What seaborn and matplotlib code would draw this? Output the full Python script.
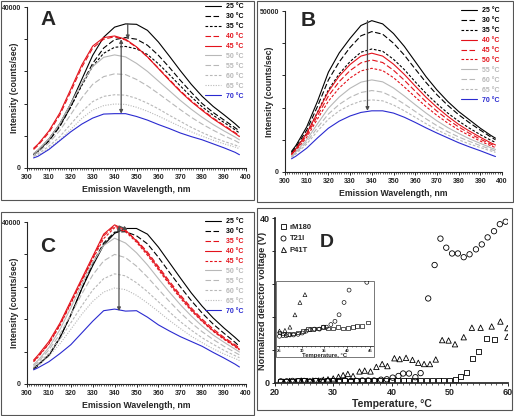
import numpy as np
import matplotlib
matplotlib.use("Agg")
import matplotlib.pyplot as plt
from matplotlib.patches import Rectangle
from matplotlib.lines import Line2D
from matplotlib.ticker import MultipleLocator, FuncFormatter
import seaborn as sns

sns.set_theme(style="ticks")
plt.rcParams["font.family"] = ["Liberation Sans", "DejaVu Sans"]
plt.rcParams["font.weight"] = "bold"
plt.rcParams["axes.labelweight"] = "bold"

# ---- data (intensity in 1000 counts/sec) ----
WAVELENGTH = [303, 305, 310, 315, 320, 325, 330, 335, 340, 345, 350,
              355, 360, 365, 370, 375, 380, 385, 390, 395, 397]
TEMPS = ["25 °C", "30 °C", "35 °C", "40 °C", "45 °C",
         "50 °C", "55 °C", "60 °C", "65 °C", "70 °C"]

A_25 = [3.5, 4.4, 7.2, 11.0, 16.0, 22.0, 28.0, 32.5, 35.0, 35.8, 35.7, 34.2, 31.3, 27.8, 24.2, 20.8, 17.8, 15.3, 13.2, 11.0, 10.0]
A_30 = [3.2, 4.0, 6.7, 10.3, 15.2, 20.8, 26.0, 29.8, 31.9, 32.4, 32.0, 30.5, 28.0, 25.0, 21.8, 18.8, 16.0, 13.8, 11.9, 10.0, 9.2]
A_35 = [3.3, 4.1, 6.9, 10.5, 15.2, 20.5, 25.3, 28.5, 30.0, 30.2, 29.6, 28.2, 25.9, 23.2, 20.4, 17.7, 15.2, 13.1, 11.3, 9.5, 8.7]
A_40 = [4.6, 5.6, 8.8, 13.2, 19.0, 25.0, 29.8, 32.0, 32.6, 31.8, 30.0, 27.6, 24.8, 22.0, 19.2, 16.7, 14.5, 12.4, 10.6, 8.8, 8.0]
A_45 = [4.9, 5.9, 9.2, 13.7, 19.6, 25.6, 30.3, 32.4, 32.8, 32.0, 30.1, 27.6, 24.7, 21.8, 19.0, 16.5, 14.3, 12.2, 10.4, 8.6, 7.8]
A_50 = [3.6, 4.4, 7.2, 11.0, 16.0, 21.0, 25.2, 27.5, 28.1, 27.6, 26.0, 24.0, 21.6, 19.2, 16.8, 14.6, 12.6, 10.8, 9.2, 7.7, 7.0]
A_55 = [3.2, 3.9, 6.2, 9.3, 13.3, 17.4, 20.8, 22.7, 23.4, 23.2, 22.0, 20.4, 18.5, 16.5, 14.5, 12.6, 10.9, 9.4, 8.0, 6.8, 6.2]
A_60 = [2.9, 3.5, 5.4, 7.8, 10.9, 14.0, 16.5, 17.8, 18.2, 18.1, 17.3, 16.1, 14.7, 13.1, 11.6, 10.1, 8.8, 7.6, 6.6, 5.7, 5.3]
A_65 = [2.7, 3.2, 4.9, 7.0, 9.6, 12.3, 14.4, 15.5, 15.9, 15.8, 15.1, 14.1, 12.9, 11.6, 10.3, 9.0, 7.9, 6.9, 6.0, 5.2, 4.8]
A_70 = [2.5, 2.9, 4.6, 6.8, 9.0, 10.9, 12.4, 13.4, 13.5, 13.5, 12.8, 11.9, 10.8, 9.8, 8.7, 7.8, 7.0, 6.0, 5.0, 3.9, 3.3]

B_25 = [6.4, 8.2, 14.0, 22.0, 31.0, 37.0, 41.5, 45.5, 47.0, 46.0, 43.0, 39.0, 34.3, 29.6, 25.5, 21.9, 18.8, 16.2, 13.6, 11.3, 10.5]
B_30 = [6.0, 7.7, 13.0, 20.4, 28.6, 34.2, 38.7, 42.3, 43.6, 42.8, 40.0, 36.3, 32.0, 27.8, 24.0, 20.7, 17.8, 15.3, 13.0, 10.8, 10.0]
B_35 = [5.6, 7.2, 12.0, 18.6, 25.5, 30.5, 34.3, 37.2, 38.2, 37.5, 35.0, 31.8, 28.0, 24.4, 21.2, 18.3, 15.8, 13.6, 11.6, 9.8, 9.2]
B_40 = [5.6, 7.2, 12.0, 18.5, 25.0, 29.8, 33.4, 36.0, 36.9, 36.0, 33.5, 30.3, 26.7, 23.2, 20.1, 17.3, 14.8, 12.7, 10.8, 9.0, 8.4]
B_45 = [5.4, 6.9, 11.4, 17.5, 23.6, 28.1, 31.5, 33.9, 34.8, 34.0, 31.6, 28.5, 25.1, 21.8, 18.9, 16.3, 14.0, 12.0, 10.2, 8.6, 8.0]
B_50 = [5.2, 6.6, 10.8, 16.5, 22.0, 26.1, 29.2, 31.4, 32.2, 31.5, 29.3, 26.4, 23.3, 20.3, 17.6, 15.2, 13.1, 11.3, 9.6, 8.1, 7.6]
B_55 = [4.9, 6.2, 10.0, 15.0, 19.8, 23.3, 26.0, 27.9, 28.6, 28.0, 26.1, 23.6, 20.9, 18.3, 15.9, 13.8, 12.0, 10.3, 8.9, 7.5, 7.0]
B_60 = [4.7, 5.9, 9.3, 13.8, 18.0, 21.0, 23.2, 24.7, 25.3, 24.8, 23.2, 21.1, 18.8, 16.5, 14.4, 12.5, 10.9, 9.5, 8.2, 7.0, 6.5]
B_65 = [4.5, 5.6, 8.7, 12.7, 16.4, 19.0, 20.8, 22.0, 22.4, 22.1, 20.8, 19.0, 17.0, 15.0, 13.1, 11.5, 10.0, 8.7, 7.6, 6.5, 6.1]
B_70 = [4.1, 4.9, 7.4, 10.6, 13.6, 15.8, 17.4, 18.5, 19.0, 19.0, 18.3, 17.0, 15.4, 13.7, 12.1, 10.6, 9.1, 7.8, 6.6, 5.3, 4.8]

C_25 = [3.9, 4.8, 7.0, 11.3, 17.1, 23.5, 29.2, 34.3, 37.2, 38.4, 38.4, 37.0, 33.8, 30.0, 26.2, 22.5, 19.2, 16.3, 13.8, 11.5, 10.5]
C_30 = [3.6, 4.5, 7.2, 11.5, 17.0, 23.5, 29.8, 34.8, 37.5, 37.6, 36.6, 34.6, 31.3, 27.6, 24.0, 20.6, 17.5, 14.8, 12.5, 10.3, 9.3]
C_35 = [5.6, 6.8, 10.0, 14.6, 20.0, 25.6, 31.0, 36.6, 39.0, 37.8, 35.5, 32.6, 29.0, 25.4, 22.0, 18.8, 16.0, 13.6, 11.5, 9.7, 8.9]
C_40 = [5.9, 7.1, 10.5, 15.0, 20.5, 26.0, 31.5, 37.0, 39.3, 38.0, 35.3, 32.2, 28.6, 25.0, 21.6, 18.4, 15.6, 13.2, 11.2, 9.4, 8.6]
C_45 = [5.5, 6.6, 9.9, 14.4, 19.8, 25.3, 30.8, 35.9, 38.6, 37.6, 35.0, 31.8, 28.2, 24.6, 21.2, 18.1, 15.4, 13.0, 11.0, 9.2, 8.4]
C_50 = [4.8, 5.8, 9.0, 13.4, 18.8, 24.5, 30.0, 34.2, 36.0, 34.8, 32.4, 29.4, 26.0, 22.7, 19.6, 16.8, 14.3, 12.1, 10.3, 8.6, 7.9]
C_55 = [4.5, 5.4, 8.4, 12.3, 17.1, 22.2, 26.9, 30.4, 32.0, 31.2, 29.1, 26.4, 23.4, 20.4, 17.6, 15.1, 12.9, 11.0, 9.3, 7.8, 7.2]
C_60 = [4.2, 5.0, 7.6, 11.0, 15.1, 19.3, 23.2, 26.0, 27.2, 26.7, 25.0, 22.8, 20.3, 17.8, 15.4, 13.3, 11.4, 9.8, 8.3, 7.0, 6.5]
C_65 = [3.9, 4.6, 6.9, 9.9, 13.5, 17.2, 20.4, 22.7, 23.7, 23.3, 21.9, 20.0, 17.9, 15.7, 13.7, 11.8, 10.2, 8.7, 7.4, 6.3, 5.8]
C_70 = [3.5, 4.0, 5.5, 7.5, 9.7, 12.6, 15.5, 18.1, 18.5, 18.0, 18.1, 16.5, 14.6, 13.1, 11.7, 10.5, 9.3, 7.8, 6.4, 4.9, 4.2]

# panel D: normalized detector voltage (V) vs temperature
RM180_T = [21, 22, 23, 24, 25, 26, 27, 28, 29, 30, 31, 32, 33, 34, 35, 36, 37, 38, 39, 40,
           41, 42, 43, 44, 45, 46, 47, 48, 49, 50, 51, 51.9, 52.9, 53.9, 55.0, 56.3, 57.6]
RM180_V = [0.3, 0.3, 0.4, 0.5, 0.5, 0.4, 0.5, 0.4, 0.5, 0.5, 0.5, 0.5, 0.4, 0.5, 0.5, 0.5, 0.5, 0.5, 0.5, 0.5,
           0.5, 0.5, 0.5, 0.5, 0.5, 0.5, 0.6, 0.6, 0.6, 0.6, 0.8, 1.5, 2.6, 6.0, 7.6, 10.9, 10.6]
T21I_T = [21, 22, 23, 24, 25, 26, 27, 28, 29, 30, 31, 32, 33, 34, 35, 36, 37, 38.2, 39.2, 40.2,
          41.2, 42.0, 43.0, 44.1, 45.0, 46.3, 47.4, 48.4, 49.4, 50.4, 51.4, 52.4, 53.4, 54.5, 55.5,
          56.5, 57.6, 58.6, 59.6]
T21I_V = [0.4, 0.4, 0.5, 0.4, 0.5, 0.4, 0.5, 0.5, 0.4, 0.5, 0.5, 0.6, 0.5, 0.5, 0.6, 0.6, 0.6, 0.8, 0.9, 1.3,
          1.7, 2.3, 2.3, 1.4, 2.4, 20.5, 28.6, 35.0, 32.8, 31.4, 31.4, 30.5, 31.2, 32.4, 33.6,
          35.3, 36.8, 38.5, 39.1]
P41T_T = [21.5, 22.5, 23.5, 24.5, 25.5, 26.5, 27.5, 28.3, 29.1, 30.0, 30.9, 31.7, 32.5, 33.4, 34.5, 35.4,
          36.4, 37.4, 38.4, 39.3, 40.5, 41.4, 42.5, 43.6, 44.6, 45.6, 46.6, 47.6, 48.7, 49.8, 50.9,
          52.4, 53.8, 55.3, 57.2, 58.7, 59.9, 59.9]
P41T_V = [0.3, 0.5, 0.4, 0.6, 0.5, 0.6, 0.6, 0.8, 0.9, 1.1, 1.5, 1.9, 2.2, 1.7, 2.8, 3.0,
          2.8, 3.9, 4.6, 4.1, 6.0, 5.8, 6.1, 5.6, 4.9, 4.6, 4.6, 5.7, 10.4, 10.3, 9.4,
          11.1, 13.4, 13.4, 13.7, 14.9, 13.3, 11.2]

# inset (arbitrary units)
IN_RM180_T = [25.1, 25.9, 27.0, 28.1, 29.2, 30.3, 31.4, 32.5, 33.6, 34.7, 35.8, 36.9, 38.0, 39.1, 40.2, 41.3, 42.2, 43.2, 44.5]
IN_RM180_V = [2.1, 1.9, 1.8, 1.9, 2.1, 2.3, 2.6, 2.6, 2.7, 2.9, 2.7, 2.7, 2.9, 2.7, 2.8, 2.9, 3.1, 3.1, 3.6]
IN_T21I_T = [25.1, 25.9, 26.6, 27.4, 28.2, 29.2, 30.1, 31.0, 31.9, 32.8, 33.9, 34.8, 35.4, 36.4, 37.3, 38.2, 39.3, 40.4, 44.3]
IN_T21I_V = [1.5, 1.6, 1.6, 1.7, 1.7, 1.8, 2.0, 2.3, 2.5, 2.6, 2.6, 2.9, 2.9, 3.3, 3.8, 4.8, 6.7, 8.6, 9.8]
IN_P41T_T = [25.1, 26.3, 27.4, 28.5, 29.6, 30.7]
IN_P41T_V = [2.3, 2.4, 2.9, 4.8, 6.7, 7.9]

BLACK, RED, GRAY, BLUE = "#000000", "#e3121b", "#b8b8b8", "#2a2ad0"
SOLID, DASH, SDASH, DOT = "-", (0, (5, 2.2)), (0, (2.4, 1.6)), (0, (1, 1.3))

FIG_W, FIG_H = 514, 416


def px_rect(l, t, r, b):
    return [l / FIG_W, 1 - b / FIG_H, (r - l) / FIG_W, (b - t) / FIG_H]


def bold_ticks(ax):
    for lab in ax.get_xticklabels() + ax.get_yticklabels():
        lab.set_fontweight("bold")


def spectra_panel(fig, rect, curves, styles, ymax, letter, letter_xy, ylab_x):
    ax = fig.add_axes(rect)
    for vals, (color, ls) in zip(curves, styles):
        sns.lineplot(x=WAVELENGTH, y=np.array(vals) * 1000, ax=ax, color=color,
                     linestyle=ls, linewidth=0.8)
    ax.set_xlim(300, 400)
    ax.set_ylim(0, ymax)
    ax.xaxis.set_major_locator(MultipleLocator(10))
    ax.xaxis.set_minor_locator(MultipleLocator(1))
    ax.yaxis.set_major_locator(MultipleLocator(ymax / 5))
    ax.yaxis.set_major_formatter(FuncFormatter(
        lambda v, p: f"{v:.0f}" if abs(v) < 1 or abs(v - ymax) < 1 else ""))
    ax.tick_params(axis="both", which="major", labelsize=5, length=2.5, width=0.7, pad=2)
    ax.tick_params(axis="x", which="minor", length=1.5, width=0.5)
    sns.despine(ax=ax)
    for s in ("left", "bottom"):
        ax.spines[s].set_linewidth(0.8)
    ax.set_xlabel("Emission Wavelength, nm", fontsize=6.3, labelpad=3)
    ax.set_ylabel("Intensity (counts/sec)", fontsize=6.3)
    ax.yaxis.set_label_coords(ylab_x, 0.5)
    bold_ticks(ax)
    ax.text(letter_xy[0], letter_xy[1], letter, transform=ax.transAxes,
            fontsize=15, fontweight="bold", ha="center", va="center")
    handles = [Line2D([], [], color=c, linestyle=ls, linewidth=0.8) for c, ls in styles]
    leg = ax.legend(handles, TEMPS, loc="upper right", bbox_to_anchor=(1.0, 1.04),
                    frameon=False, fontsize=5, handlelength=2.4, handletextpad=0.6,
                    labelspacing=0.42, borderaxespad=0)
    for txt, (c, ls) in zip(leg.get_texts(), styles):
        txt.set_color(c)
    return ax


def arrow(ax, x0, y0, x1, y1, both=False):
    ax.annotate("", xy=(x1, y1), xytext=(x0, y0),
                arrowprops=dict(arrowstyle="<|-|>" if both else "-|>", color="0.3",
                                lw=0.9, mutation_scale=5, shrinkA=0, shrinkB=0))


fig = plt.figure(figsize=(FIG_W / 100, FIG_H / 100), dpi=100)

# frames around each panel
for l, t, r, b in [(1, 1, 254, 200), (257, 1, 513, 202), (1, 212, 254, 415), (257, 208, 512, 410)]:
    fig.add_artist(Rectangle((l / FIG_W, 1 - b / FIG_H), (r - l) / FIG_W, (b - t) / FIG_H,
                             transform=fig.transFigure, fill=False, edgecolor="#555555", lw=0.8))

styles_a = [(BLACK, SOLID), (BLACK, DASH), (BLACK, SDASH), (RED, DASH), (RED, SOLID),
            (GRAY, SOLID), (GRAY, DASH), (GRAY, SDASH), (GRAY, DOT), (BLUE, SOLID)]
styles_b = [(BLACK, SOLID), (BLACK, DASH), (BLACK, SDASH), (RED, SOLID), (RED, DASH),
            (RED, SDASH), (GRAY, SOLID), (GRAY, DASH), (GRAY, SDASH), (BLUE, SOLID)]
styles_c = [(BLACK, SOLID), (BLACK, DASH), (RED, DASH), (RED, SOLID), (RED, SDASH),
            (GRAY, SOLID), (GRAY, DASH), (GRAY, SDASH), (GRAY, DOT), (BLUE, SOLID)]

axA = spectra_panel(fig, px_rect(27, 7, 246, 168),
                    [A_25, A_30, A_35, A_40, A_45, A_50, A_55, A_60, A_65, A_70],
                    styles_a, 40000, "A", (0.096, 0.92), -0.037)
arrow(axA, 346, max(A_25) * 1000, 346, max(A_40) * 1000 - 600)
arrow(axA, 343, max(A_40) * 1000 - 600, 343, max(A_70) * 1000, both=True)

axB = spectra_panel(fig, px_rect(285, 11, 502, 172),
                    [B_25, B_30, B_35, B_40, B_45, B_50, B_55, B_60, B_65, B_70],
                    styles_b, 50000, "B", (0.106, 0.944), -0.05)
arrow(axB, 338, max(B_25) * 1000, 338, max(B_70) * 1000)

axC = spectra_panel(fig, px_rect(27, 222, 246, 384),
                    [C_25, C_30, C_35, C_40, C_45, C_50, C_55, C_60, C_65, C_70],
                    styles_c, 40000, "C", (0.096, 0.846), -0.037)
arrow(axC, 342, max(C_40) * 1000 - 300, 342, max(C_70) * 1000 - 500, both=True)
arrow(axC, 342, max(C_40) * 1000 - 300, 346, max(C_25) * 1000 - 300)

# ---- panel D ----
axD = fig.add_axes(px_rect(275, 218, 508, 383))
mk = dict(facecolor="none", edgecolor="black", linewidth=0.6)
sns.scatterplot(x=RM180_T, y=RM180_V, marker="s", s=13, ax=axD, **mk)
sns.scatterplot(x=T21I_T, y=T21I_V, marker="o", s=15, ax=axD, **mk)
sns.scatterplot(x=P41T_T, y=P41T_V, marker="^", s=15, ax=axD, **mk)
axD.set_xlim(20, 60)
axD.set_ylim(0, 40)
axD.xaxis.set_major_locator(MultipleLocator(10))
axD.xaxis.set_minor_locator(MultipleLocator(1))
axD.yaxis.set_major_locator(MultipleLocator(8))
axD.yaxis.set_major_formatter(FuncFormatter(lambda v, p: f"{v:.0f}" if v in (0, 40) else ""))
axD.tick_params(axis="both", which="major", labelsize=6.5, length=2.2, width=0.7, pad=1.5)
axD.tick_params(axis="x", which="minor", length=1.5, width=0.5)
sns.despine(ax=axD)
axD.set_xlabel("Temperature, °C", fontsize=7.5, labelpad=1)
axD.set_ylabel("Normalized detector voltage (V)", fontsize=6.6)
axD.yaxis.set_label_coords(-0.034, 0.5)
bold_ticks(axD)
axD.text(0.223, 0.85, "D", transform=axD.transAxes, fontsize=14,
         fontweight="bold", ha="center", va="center")
handles = [Line2D([], [], linestyle="", marker=m, markerfacecolor="none",
                  markeredgecolor="black", markersize=3.6, markeredgewidth=0.6)
           for m in ("s", "o", "^")]
axD.legend(handles, ["rM180", "T21I", "P41T"], loc="upper left", bbox_to_anchor=(0.0, 1.0),
           frameon=False, fontsize=5.5, handlelength=0.8, handletextpad=0.4,
           labelspacing=0.55, borderaxespad=0.3)

# inset
fig.add_artist(Rectangle((276 / FIG_W, 1 - 357 / FIG_H), 98 / FIG_W, 76 / FIG_H,
                         transform=fig.transFigure, facecolor="white",
                         edgecolor="#777777", lw=0.7, zorder=2))
axI = fig.add_axes(px_rect(277, 281, 373, 346), zorder=3)
axI.patch.set_alpha(0)
mk_in = dict(facecolor="none", edgecolor="black", linewidth=0.45)
sns.scatterplot(x=IN_RM180_T, y=IN_RM180_V, marker="s", s=7, ax=axI, **mk_in)
sns.scatterplot(x=IN_T21I_T, y=IN_T21I_V, marker="o", s=8, ax=axI, **mk_in)
sns.scatterplot(x=IN_P41T_T, y=IN_P41T_V, marker="^", s=8, ax=axI, **mk_in)
axI.set_xlim(24.56, 45.66)
axI.set_ylim(0, 10)
axI.set_xticks([25, 30, 35, 40, 45])
axI.set_yticks([])
axI.xaxis.set_minor_locator(MultipleLocator(1))
axI.tick_params(axis="x", which="major", labelsize=3, length=1.5, width=0.5, pad=1)
axI.tick_params(axis="x", which="minor", length=1, width=0.4)
for s in ("top", "right", "left"):
    axI.spines[s].set_visible(False)
axI.spines["bottom"].set_linewidth(0.6)
axI.set_xlabel("Temperature, °C", fontsize=4.2, labelpad=0)
bold_ticks(axI)

fig.savefig("out.png", dpi=100)
